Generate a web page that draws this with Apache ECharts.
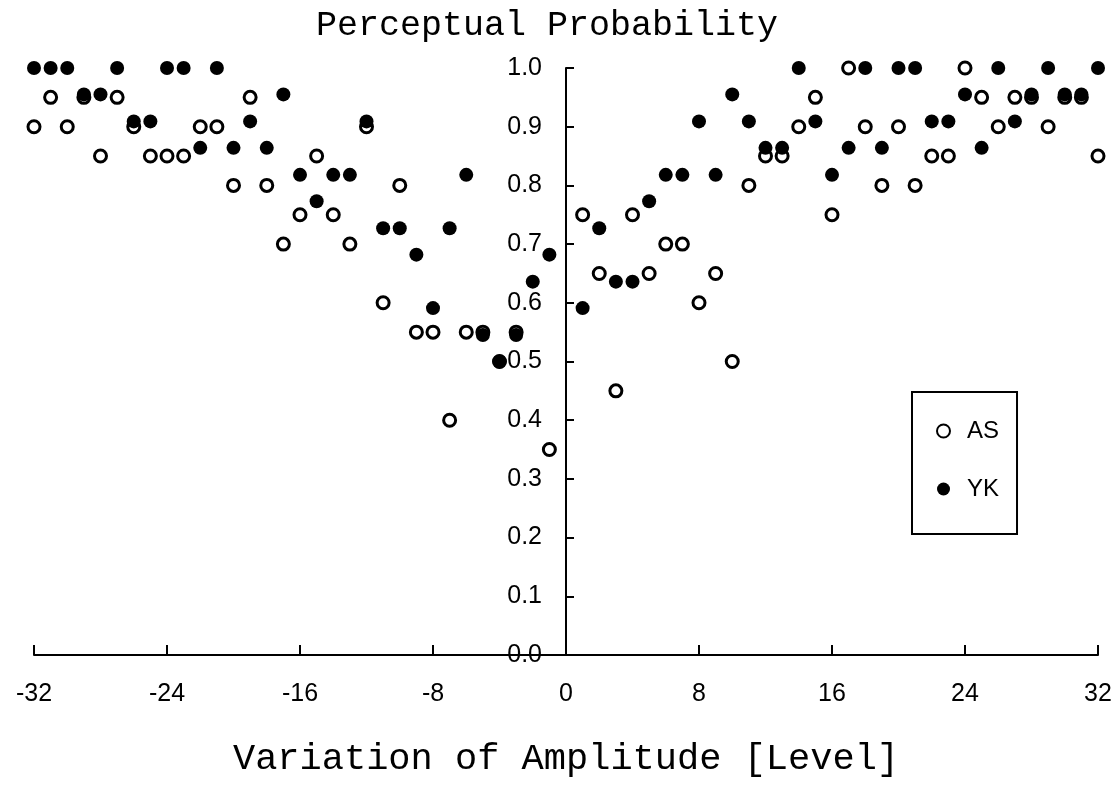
<!DOCTYPE html>
<html>
<head>
<meta charset="utf-8">
<script src="https://cdn.jsdelivr.net/npm/echarts@6/dist/echarts.min.js"></script>
<style>
html,body{margin:0;padding:0;background:#fff;}
#chart{width:1120px;height:787px;}
</style>
</head>
<body>
<div id="chart"></div>
<script>
// Levels (x categories)
const levelsNeg = [-32,-31,-30,-29,-28,-27,-26,-25,-24,-23,-22,-21,-20,-19,-18,-17,-16,-15,-14,-13,-12,-11,-10,-9,-8,-7,-6,-5,-4,-3,-2,-1];
const levelsPos = [1,2,3,4,5,6,7,8,9,10,11,12,13,14,15,16,17,18,19,20,21,22,23,24,25,26,27,28,29,30,31,32];

// Subject AS (open circles)
const asNeg = [0.90,0.95,0.90,0.95,0.85,0.95,0.90,0.85,0.85,0.85,0.90,0.90,0.80,0.95,0.80,0.70,0.75,0.85,0.75,0.70,0.90,0.60,0.80,0.55,0.55,0.40,0.55,0.55,0.50,0.55,null,0.35];
const asPos = [0.75,0.65,0.45,0.75,0.65,0.70,0.70,0.60,0.65,0.50,0.80,0.85,0.85,0.90,0.95,0.75,1.00,0.90,0.80,0.90,0.80,0.85,0.85,1.00,0.95,0.90,0.95,0.95,0.90,0.95,0.95,0.85];

// Subject YK (filled circles)
const ykNeg = [1.00,1.00,1.00,0.955,0.955,1.00,0.909,0.909,1.00,1.00,0.864,1.00,0.864,0.909,0.864,0.955,0.818,0.773,0.818,0.818,0.909,0.727,0.727,0.682,0.591,0.727,0.818,0.545,0.50,0.545,0.636,0.682];
const ykPos = [0.591,0.727,0.636,0.636,0.773,0.818,0.818,0.909,0.818,0.955,0.909,0.864,0.864,1.00,0.909,0.818,0.864,1.00,0.864,1.00,1.00,0.909,0.909,0.955,0.864,1.00,0.909,0.955,1.00,0.955,0.955,1.00];

const xTicks = [-32,-24,-16,-8,0,8,16,24,32];
const yTicks = [0.0,0.1,0.2,0.3,0.4,0.5,0.6,0.7,0.8,0.9,1.0];

function pairs(levels, vals){
  const out = [];
  levels.forEach((l,i)=>{ if(vals[i]!==null && vals[i]!==undefined) out.push([l, vals[i]]); });
  return out;
}
const asData = pairs(levelsNeg, asNeg).concat(pairs(levelsPos, asPos));
const ykData = pairs(levelsNeg, ykNeg).concat(pairs(levelsPos, ykPos));

const GRID_LEFT = 34, GRID_RIGHT = 22;
const plotWidth = 1120 - GRID_LEFT - GRID_RIGHT;
// shift y axis to the x = 0 position (middle of the x range)
const yAxisOffset = -plotWidth * (0 - xTicks[0]) / (xTicks[xTicks.length-1] - xTicks[0]);

const chart = echarts.init(document.getElementById('chart'), null, {renderer:'canvas'});
const labelFont = {fontFamily:'Liberation Sans, Arial, sans-serif', fontSize:25, fontWeight:'normal', color:'#000'};
chart.setOption({
  backgroundColor:'#fff',
  animation:false,
  title:{
    text:'Perceptual Probability',
    left:542, top:3, textAlign:'center',
    textStyle:{fontFamily:'Liberation Mono, Courier New, monospace', fontSize:35, fontWeight:'normal', color:'#000'}
  },
  legend:{
    data:['AS','YK'],
    orient:'vertical',
    left:912, top:392,
    borderColor:'#000', borderWidth:2, borderRadius:0,
    padding:[27,18,33,24],
    itemGap:34,
    itemWidth:13, itemHeight:13,
    textStyle:{fontFamily:'Liberation Sans, Arial, sans-serif', fontSize:24, fontWeight:'normal', color:'#000', padding:[0,0,0,12]}
  },
  grid:{left:GRID_LEFT, right:GRID_RIGHT, top:68, bottom:132, containLabel:false, outerBoundsMode:'none'},
  xAxis:{
    type:'value', min:xTicks[0], max:xTicks[xTicks.length-1], interval:8,
    name:'Variation of Amplitude [Level]',
    nameLocation:'middle', nameGap:86,
    nameTextStyle:{fontFamily:'Liberation Mono, Courier New, monospace', fontSize:37, color:'#000'},
    axisLine:{show:true, onZero:false, lineStyle:{color:'#000', width:2}},
    axisTick:{show:true, inside:true, length:10, lineStyle:{color:'#000', width:2}},
    axisLabel:Object.assign({margin:27, formatter:v=>String(v)}, labelFont),
    splitLine:{show:false}
  },
  yAxis:{
    type:'value', min:yTicks[0], max:yTicks[yTicks.length-1], interval:0.1,
    position:'left', offset:yAxisOffset,
    axisLine:{show:true, onZero:false, lineStyle:{color:'#000', width:2}},
    axisTick:{show:true, inside:true, length:8, lineStyle:{color:'#000', width:2}},
    axisLabel:Object.assign({margin:24, formatter:v=>v.toFixed(1)}, labelFont),
    splitLine:{show:false}
  },
  series:[
    {
      name:'AS', type:'scatter', data:asData, symbol:'circle', symbolSize:12,
      itemStyle:{color:'#fff', borderColor:'#000', borderWidth:3, opacity:1},
      z:3
    },
    {
      name:'YK', type:'scatter', data:ykData, symbol:'circle', symbolSize:14,
      itemStyle:{color:'#000', borderColor:'#000', borderWidth:0, opacity:1},
      z:4
    }
  ]
});
</script>
</body>
</html>
